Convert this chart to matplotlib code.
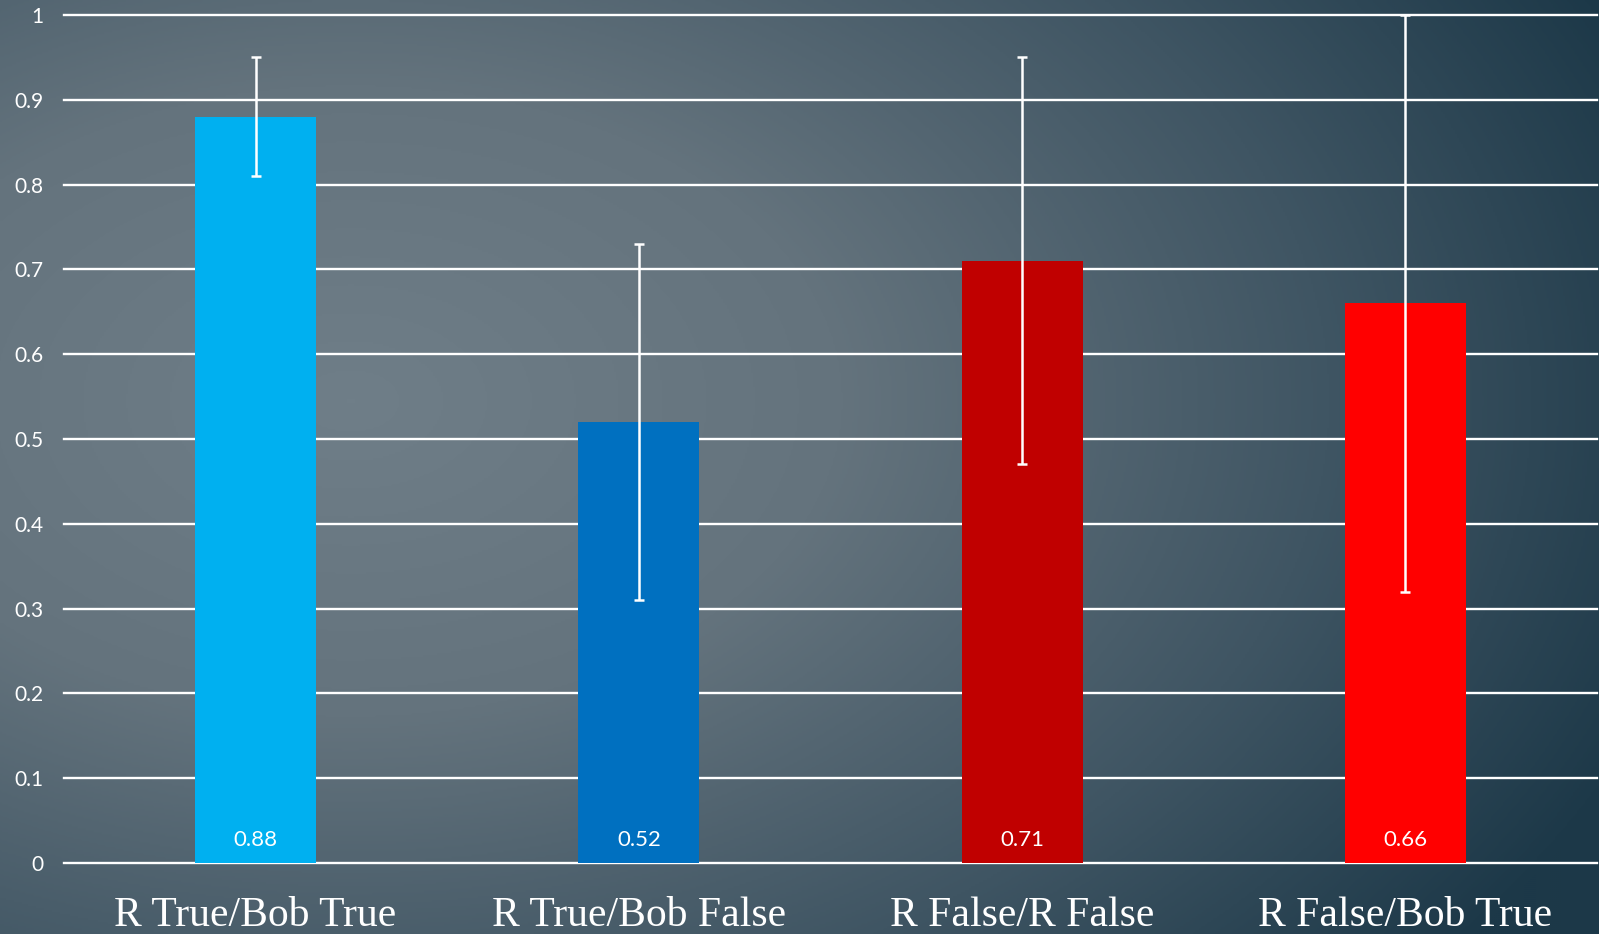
import numpy as np
import matplotlib
matplotlib.use("Agg")
import matplotlib.pyplot as plt
from matplotlib.colors import LinearSegmentedColormap

categories = ["R True/Bob True", "R True/Bob False", "R False/R False", "R False/Bob True"]
values = [0.88, 0.52, 0.71, 0.66]
err_lo = [0.07, 0.21, 0.24, 0.34]
err_hi = [0.07, 0.21, 0.24, 0.34]
colors = ["#00b0f0", "#0070c0", "#c00000", "#ff0000"]
yticks = [0, 0.1, 0.2, 0.3, 0.4, 0.5, 0.6, 0.7, 0.8, 0.9, 1.0]
ytick_labels = ["0", "0.1", "0.2", "0.3", "0.4", "0.5", "0.6", "0.7", "0.8", "0.9", "1"]

W, H = 1599, 934
fig = plt.figure(figsize=(W / 100, H / 100), dpi=100)

# background gradient
bg = fig.add_axes([0, 0, 1, 1])
bg.set_axis_off()
yy, xx = np.mgrid[0:H:2, 0:W:2]
cx, cy = 350, 400
d = np.sqrt(((xx - cx) / 1400.0) ** 2 + ((yy - cy) / 900.0) ** 2)
d = np.clip(d, 0, 1)
cmap = LinearSegmentedColormap.from_list(
    "bg", [(0.0, "#6f7e88"), (0.35, "#64737d"), (0.7, "#3f5563"), (1.0, "#1c3848")])
bg.imshow(d, cmap=cmap, vmin=0, vmax=1, aspect="auto", extent=[0, 1, 0, 1], origin="upper")
bg.set_xlim(0, 1)
bg.set_ylim(0, 1)

left = 64 / W
right = 1597 / W
bottom = 1 - 863 / H
top = 1 - 15 / H
ax = fig.add_axes([left, bottom, right - left, top - bottom])
ax.patch.set_alpha(0)

x = np.arange(len(categories))
ax.set_xlim(-0.5, len(categories) - 0.5)
ax.set_ylim(0, 1)
for t in yticks:
    ax.axhline(t, color="white", lw=1.7, zorder=1, clip_on=False)
ax.bar(x, values, width=0.316, color=colors, zorder=2)
ax.errorbar(x, values, yerr=[err_lo, err_hi], fmt="none", ecolor="white",
            elinewidth=1.8, capsize=3.8, capthick=1.8, zorder=3, clip_on=False)

for xi, v in zip(x, values):
    ax.text(xi, 0.027, f"{v:.2f}", ha="center", va="center", color="white",
            fontsize=16, family="Lato", zorder=4)

for s in ax.spines.values():
    s.set_visible(False)
ax.set_yticks(yticks)
ax.set_yticklabels(ytick_labels, fontsize=15, color="white", family="Lato")
ax.tick_params(axis="y", length=0, pad=15)
ax.set_xticks(x)
ax.set_xticklabels(categories, fontsize=30, color="white", family="Liberation Serif")
ax.tick_params(axis="x", length=0, pad=24)

fig.savefig("out.png", dpi=100)
